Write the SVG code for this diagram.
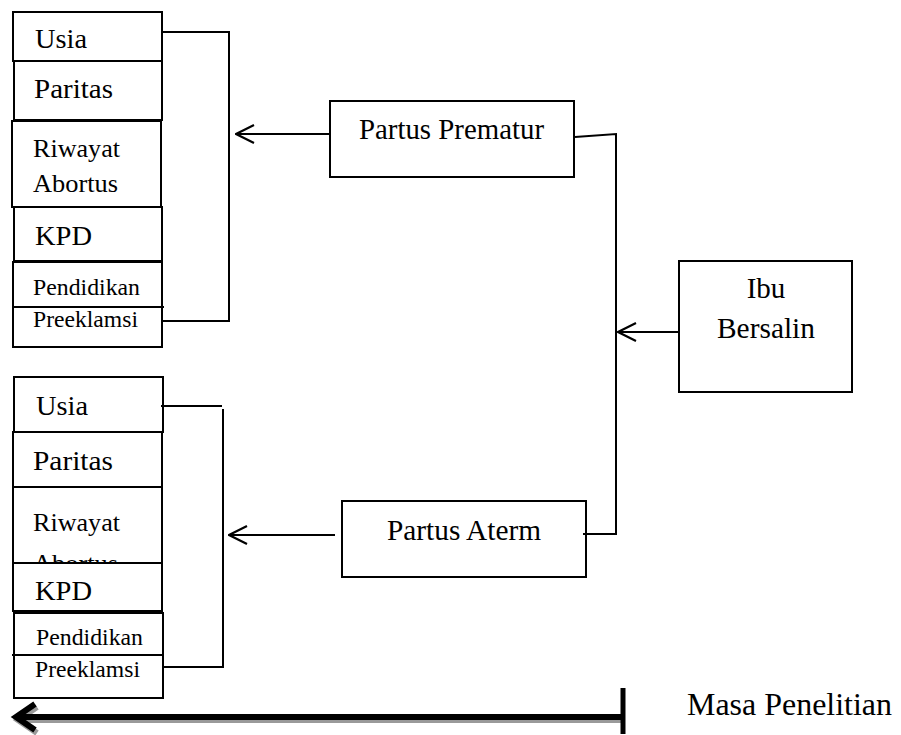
<svg xmlns="http://www.w3.org/2000/svg" width="901" height="735" viewBox="0 0 901 735">
  <style>
    .box { fill: #ffffff; stroke: #000000; stroke-width: 2; }
    .line { fill: none; stroke: #000000; stroke-width: 2; }
    .lbl { font-family: "Liberation Serif", "Times New Roman", serif; fill: #000000; }
    .lg { font-size: 28px; }
    .md { font-size: 26px; }
    .sm { font-size: 22.5px; }
    .ctr { text-anchor: middle; }
  </style>
  <defs>
    <marker id="open-arrow" markerUnits="userSpaceOnUse" viewBox="0 0 20 20" refX="19" refY="10" markerWidth="20" markerHeight="20" orient="auto">
      <path d="M1,1 L19,10 L1,19" fill="none" stroke="#000" stroke-width="2.2"/>
    </marker>
    <clipPath id="clip-riwayat-2">
      <rect x="13" y="487" width="149" height="76"/>
    </clipPath>
  </defs>

  <!-- upper factor column -->
  <g id="usia-1">
    <rect class="box" x="13" y="12" width="149" height="49"/>
    <text class="lbl lg" x="35" y="48" textLength="52" lengthAdjust="spacingAndGlyphs">Usia</text>
  </g>
  <g id="paritas-1">
    <rect class="box" x="14" y="61" width="148" height="59"/>
    <text class="lbl lg" x="34" y="98" textLength="79" lengthAdjust="spacingAndGlyphs">Paritas</text>
  </g>
  <g id="riwayat-abortus-1">
    <rect class="box" x="12" y="121" width="149" height="86"/>
    <text class="lbl md" x="33" y="157" textLength="87" lengthAdjust="spacingAndGlyphs">Riwayat</text>
    <text class="lbl md" x="33" y="192" textLength="85" lengthAdjust="spacingAndGlyphs">Abortus</text>
  </g>
  <g id="kpd-1">
    <rect class="box" x="14" y="207" width="148" height="54"/>
    <text class="lbl lg" x="35" y="245" textLength="57" lengthAdjust="spacingAndGlyphs">KPD</text>
  </g>
  <g id="pendidikan-preeklamsi-1">
    <rect class="box" x="13" y="262" width="149" height="85"/>
    <line class="line" x1="13" y1="307" x2="164" y2="307"/>
    <text class="lbl sm" x="33" y="295" textLength="107" lengthAdjust="spacingAndGlyphs">Pendidikan</text>
    <text class="lbl sm" x="33" y="327" textLength="105" lengthAdjust="spacingAndGlyphs">Preeklamsi</text>
  </g>

  <!-- lower factor column -->
  <g id="usia-2">
    <rect class="box" x="14" y="377" width="149" height="55"/>
    <text class="lbl lg" x="36" y="415" textLength="52" lengthAdjust="spacingAndGlyphs">Usia</text>
  </g>
  <g id="paritas-2">
    <rect class="box" x="13" y="432" width="149" height="55"/>
    <text class="lbl lg" x="33" y="470" textLength="80" lengthAdjust="spacingAndGlyphs">Paritas</text>
  </g>
  <g id="riwayat-abortus-2">
    <rect class="box" x="13" y="487" width="149" height="76"/>
    <text class="lbl md" x="33" y="531" textLength="87" lengthAdjust="spacingAndGlyphs">Riwayat</text>
    <text class="lbl md" x="33" y="572" textLength="85" lengthAdjust="spacingAndGlyphs" clip-path="url(#clip-riwayat-2)">Abortus</text>
  </g>
  <g id="kpd-2">
    <rect class="box" x="13" y="563" width="149" height="48"/>
    <text class="lbl lg" x="35" y="600" textLength="57" lengthAdjust="spacingAndGlyphs">KPD</text>
  </g>
  <g id="pendidikan-preeklamsi-2">
    <rect class="box" x="14" y="613" width="149" height="85"/>
    <line class="line" x1="12" y1="655" x2="163" y2="655"/>
    <text class="lbl sm" x="36" y="645" textLength="107" lengthAdjust="spacingAndGlyphs">Pendidikan</text>
    <text class="lbl sm" x="35" y="677" textLength="105" lengthAdjust="spacingAndGlyphs">Preeklamsi</text>
  </g>

  <!-- outcome and population boxes -->
  <g id="partus-prematur">
    <rect class="box" x="330" y="101" width="244" height="76"/>
    <text class="lbl" x="359" y="139" font-size="29" textLength="185" lengthAdjust="spacingAndGlyphs">Partus Prematur</text>
  </g>
  <g id="partus-aterm">
    <rect class="box" x="342" y="501" width="244" height="76"/>
    <text class="lbl" x="387" y="540" font-size="29" textLength="154" lengthAdjust="spacingAndGlyphs">Partus Aterm</text>
  </g>
  <g id="ibu-bersalin">
    <rect class="box" x="679" y="261" width="173" height="131"/>
    <text class="lbl ctr" x="766" y="298" font-size="29">Ibu</text>
    <text class="lbl ctr" x="766" y="338" font-size="29" textLength="98" lengthAdjust="spacingAndGlyphs">Bersalin</text>
  </g>

  <!-- connectors -->
  <g id="connectors">
    <!-- brackets around the factor columns -->
    <path class="line" d="M162,32 H229 V321 H163"/>
    <path class="line" d="M161,406 H222"/>
    <path class="line" d="M223,409 V667 H163"/>
    <!-- split from Ibu Bersalin to both outcomes -->
    <path class="line" d="M575,137 L616,134 V534 H583"/>
    <line class="line" x1="679" y1="332" x2="618" y2="332" marker-end="url(#open-arrow)"/>
    <!-- outcomes to factors -->
    <line class="line" x1="330" y1="134" x2="236" y2="134" marker-end="url(#open-arrow)"/>
    <line class="line" x1="335" y1="535" x2="229" y2="535" marker-end="url(#open-arrow)"/>
  </g>

  <!-- study period timeline -->
  <g id="masa-penelitian">
    <g transform="translate(2,3)" stroke="#9a9a9a" stroke-width="6" fill="none">
      <path d="M35,704 L16,717 L35,730"/>
      <line x1="16" y1="717" x2="622" y2="717"/>
    </g>
    <g stroke="#000" stroke-width="6" fill="none">
      <path d="M35,704 L16,717 L35,730"/>
      <line x1="16" y1="717" x2="622" y2="717"/>
    </g>
    <line x1="623" y1="688" x2="623" y2="734" stroke="#000" stroke-width="5"/>
    <text class="lbl" x="687" y="715" font-size="32" textLength="205" lengthAdjust="spacingAndGlyphs">Masa Penelitian</text>
  </g>
</svg>
